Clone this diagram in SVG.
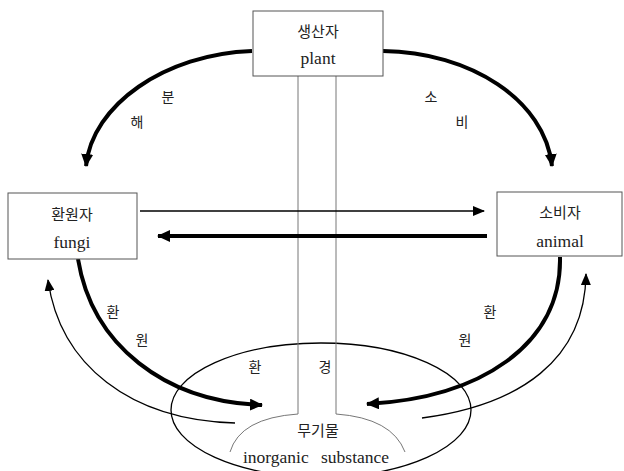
<svg xmlns="http://www.w3.org/2000/svg" width="624" height="471" viewBox="0 0 624 471">
<style>
.box{fill:#fff;stroke:#555;stroke-width:1}
.t{font-family:"Liberation Serif","Noto Sans CJK KR",serif;font-size:15px;fill:#222;text-anchor:middle}
.e{font-family:"Liberation Serif","Noto Sans CJK KR",serif;font-size:17.5px;fill:#222;text-anchor:middle}
.k{font-family:"Liberation Serif","Noto Sans CJK KR",serif;font-size:14px;fill:#222;text-anchor:middle}
.thick{fill:none;stroke:#000;stroke-width:4}
.thin{fill:none;stroke:#000;stroke-width:1.3}
.grey{fill:none;stroke:#777;stroke-width:1}
</style>
<defs>
<marker id="ah" markerUnits="userSpaceOnUse" markerWidth="14" markerHeight="12" refX="12" refY="6" orient="auto"><path d="M0,0 L13,6 L0,12 Z" fill="#000"/></marker>
<marker id="as" markerUnits="userSpaceOnUse" markerWidth="12" markerHeight="10" refX="11" refY="5" orient="auto"><path d="M0,0 L12,5 L0,10 Z" fill="#000"/></marker>
</defs>
<rect width="624" height="471" fill="#fff"/>
<g id="environment">
<ellipse cx="321" cy="410" rx="150" ry="67" fill="none" stroke="#000" stroke-width="1.3"/>
<line class="grey" x1="298" y1="76" x2="298" y2="414"/>
<line class="grey" x1="336" y1="76" x2="336" y2="414"/>
<path class="grey" d="M230,452 Q240,418 298,414"/>
<path class="grey" d="M336,414 Q392,418 405,452"/>
<text class="k" x="255" y="372">환</text>
<text class="k" x="325" y="372">경</text>
<text class="t" x="318" y="436">무기물</text>
<text class="e" x="316" y="463" word-spacing="8">inorganic substance</text>
</g>
<g id="connectors">
<path class="thick" d="M252,51 C165,54 92,105 86,166" marker-end="url(#ah)"/>
<path class="thick" d="M383,51 C470,52 545,100 552,166" marker-end="url(#ah)"/>
<line class="thin" x1="140" y1="211" x2="484" y2="211" marker-end="url(#as)"/>
<line class="thick" x1="487" y1="236" x2="158" y2="236" stroke-width="4.5" marker-end="url(#ah)"/>
<path class="thick" d="M78,259 C92,345 165,402 262,405" marker-end="url(#ah)"/>
<path class="thin" d="M235,423 C130,420 60,365 48,280" marker-end="url(#as)"/>
<path class="thick" d="M560,257 C562,345 480,398 367,404" marker-end="url(#ah)"/>
<path class="thin" d="M422,418 C520,405 585,360 586,274" marker-end="url(#as)"/>
<text class="k" x="168" y="102">분</text>
<text class="k" x="137" y="127">해</text>
<text class="k" x="431" y="102">소</text>
<text class="k" x="462" y="127">비</text>
<text class="k" x="113" y="317">환</text>
<text class="k" x="142" y="345">원</text>
<text class="k" x="490" y="317">환</text>
<text class="k" x="465" y="345">원</text>
</g>
<g id="plant">
<rect class="box" x="253" y="11" width="130" height="65"/>
<text class="t" x="318" y="37">생산자</text>
<text class="e" x="318" y="64">plant</text>
</g>
<g id="fungi">
<rect class="box" x="8" y="193" width="129" height="66"/>
<text class="t" x="72" y="220">환원자</text>
<text class="e" x="72" y="248">fungi</text>
</g>
<g id="animal">
<rect class="box" x="497" y="192" width="125" height="64"/>
<text class="t" x="560" y="218">소비자</text>
<text class="e" x="560" y="247">animal</text>
</g>
</svg>
